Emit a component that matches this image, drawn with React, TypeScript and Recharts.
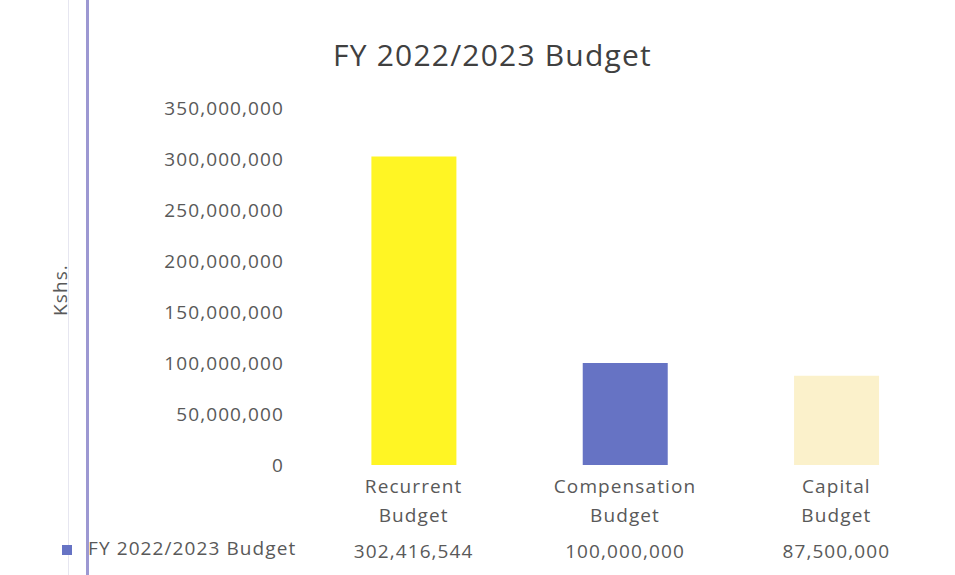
import React from 'react';
import { BarChart, Bar, XAxis, YAxis, Cell } from 'recharts';

const categories = ['Recurrent Budget', 'Compensation Budget', 'Capital Budget'];
const budgetValues = [302416544, 100000000, 87500000];
const barColors = ['#FFF524', '#6673C4', '#FBF1CB'];
const yTicks = [0, 50000000, 100000000, 150000000, 200000000, 250000000, 300000000, 350000000];
const seriesName = 'FY 2022/2023 Budget';

const data = categories.map((name, i) => ({ name, value: budgetValues[i] }));

const FONT = '"Open Sans", sans-serif';
const TEXT = '#595959';
const LS = 1.1;

const fmt = (v: number) => v.toLocaleString('en-US');

const CategoryTick = ({ x, y, payload }: any) => {
  const words = String(payload.value).split(' ');
  return (
    <text x={x} y={y} textAnchor="middle" fill={TEXT} fontSize={19} fontFamily={FONT} letterSpacing={LS}>
      {words.map((w, i) => (
        <tspan key={i} x={x} dy={i === 0 ? 20 : 29}>
          {w}
        </tspan>
      ))}
    </text>
  );
};

const ValueTick = ({ x, y, index }: any) => (
  <text x={x} y={y} dy={20} textAnchor="middle" fill={TEXT} fontSize={19} fontFamily={FONT} letterSpacing={LS}>
    {fmt(budgetValues[index] ?? 0)}
  </text>
);

const YTick = ({ x, y, payload }: any) => (
  <text x={x} y={y} dy={7} textAnchor="end" fill={TEXT} fontSize={19} fontFamily={FONT} letterSpacing={LS}>
    {fmt(payload.value)}
  </text>
);

export default function App() {
  return (
    <div style={{ position: 'absolute', left: 0, top: 0, width: 955, height: 575, background: '#fff', fontFamily: FONT }}>
      {/* scan artefact lines on the left */}
      <div style={{ position: 'absolute', left: 86, top: 0, width: 3, height: 575, background: '#9c98d2' }} />
      <div style={{ position: 'absolute', left: 68, top: 0, width: 1, height: 575, background: '#e6e6f0' }} />

      <div
        style={{
          position: 'absolute',
          left: 0,
          width: 985,
          top: 34,
          textAlign: 'center',
          fontSize: 30,
          letterSpacing: 1.2,
          color: '#404040',
        }}
      >
        FY 2022/2023 Budget
      </div>

      <div
        style={{
          position: 'absolute',
          left: 60,
          top: 290,
          transform: 'translate(-50%, -50%) rotate(-90deg)',
          fontSize: 19,
          letterSpacing: LS,
          color: TEXT,
          whiteSpace: 'nowrap',
        }}
      >
        Kshs.
      </div>

      <div style={{ position: 'absolute', left: 62, top: 545, width: 10, height: 10, background: '#6673C4' }} />
      <div
        style={{
          position: 'absolute',
          left: 88,
          top: 535,
          fontSize: 19,
          letterSpacing: LS,
          color: TEXT,
          whiteSpace: 'nowrap',
        }}
      >
        {seriesName}
      </div>

      <div style={{ position: 'absolute', left: 0, top: 0 }}>
        <BarChart
          width={955}
          height={575}
          data={data}
          margin={{ top: 108, right: 13, bottom: 5, left: 68 }}
          barCategoryGap="30%"
        >
          <XAxis
            dataKey="name"
            xAxisId="cat"
            axisLine={false}
            tickLine={false}
            height={65}
            interval={0}
            tick={<CategoryTick />}
          />
          <XAxis
            dataKey="name"
            xAxisId="table"
            axisLine={false}
            tickLine={false}
            height={40}
            interval={0}
            tick={<ValueTick />}
          />
          <YAxis
            width={240}
            domain={[0, 350000000]}
            ticks={yTicks}
            axisLine={false}
            tickLine={false}
            tickMargin={18}
            tick={<YTick />}
          />
          <Bar dataKey="value" name={seriesName} xAxisId="cat" isAnimationActive={false}>
            {data.map((d, i) => (
              <Cell key={d.name} fill={barColors[i]} />
            ))}
          </Bar>
        </BarChart>
      </div>
    </div>
  );
}
